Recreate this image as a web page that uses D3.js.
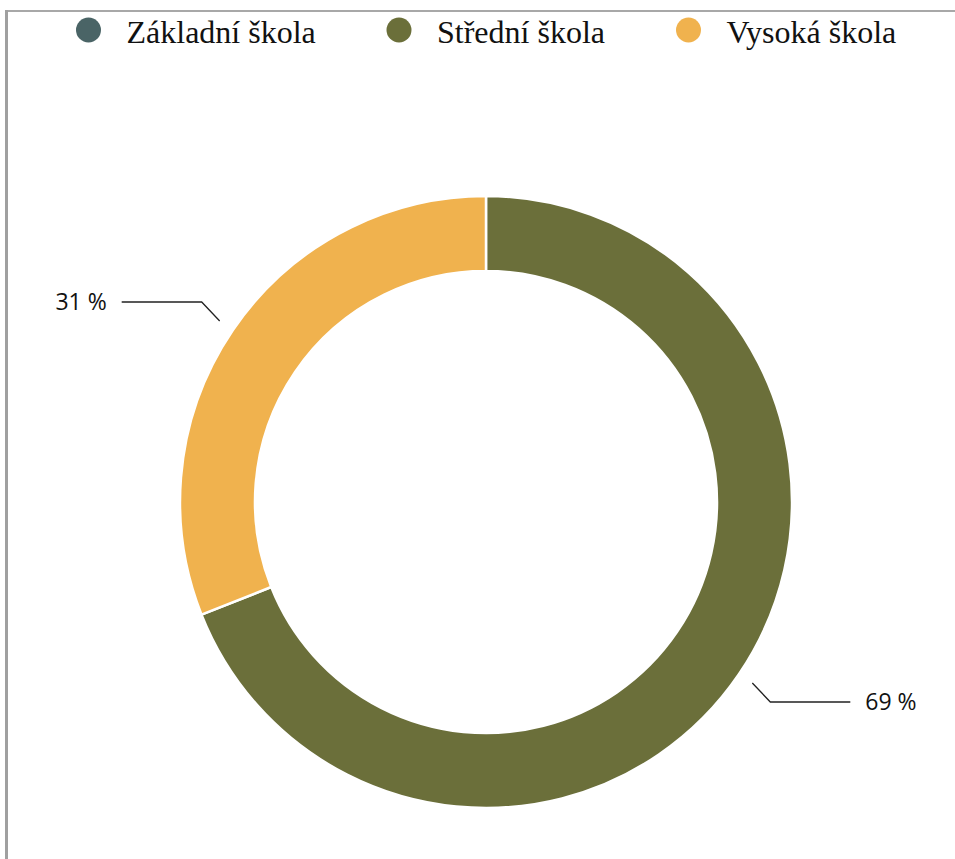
<!DOCTYPE html>
<html>
<head>
<meta charset="utf-8">
<script src="https://cdn.jsdelivr.net/npm/d3@7"></script>
<style>
  html, body { margin: 0; padding: 0; background: #fff; }
  svg { display: block; }
</style>
</head>
<body>
<svg id="chart" width="955" height="859"></svg>
<script>
const categories = ["Základní škola", "Střední škola", "Vysoká škola"];
const values = [0, 69, 31];
const colors = ["#4a6466", "#6b6f3a", "#f0b24e"];
const labelTexts = ["0 %", "69 %", "31 %"];

const svg = d3.select("#chart");
const W = 955, H = 859;

// frame
svg.append("line").attr("x1", 6.5).attr("x2", W).attr("y1", 11).attr("y2", 11)
  .attr("stroke", "#a8a8a8").attr("stroke-width", 2);
svg.append("line").attr("x1", 6.5).attr("x2", 6.5).attr("y1", 10).attr("y2", H)
  .attr("stroke", "#a0a0a0").attr("stroke-width", 3);

// legend
const legendX = [88.5, 399, 688.5];
const legend = svg.append("g");
categories.forEach((c, i) => {
  legend.append("circle").attr("cx", legendX[i]).attr("cy", 30).attr("r", 12.5).attr("fill", colors[i]);
  legend.append("text").attr("x", legendX[i] + 38).attr("y", 43)
    .attr("font-family", "Liberation Serif, Times New Roman, serif")
    .attr("font-size", 32).attr("fill", "#111").text(c);
});

// donut
const cx = 486, cy = 502, rOuter = 306, rInner = 231;
const pie = d3.pie().sort(null).value(d => d);
const arcs = pie(values);
const arc = d3.arc().innerRadius(rInner).outerRadius(rOuter);
const g = svg.append("g").attr("transform", `translate(${cx},${cy})`);
g.selectAll("path").data(arcs).join("path")
  .attr("d", arc).attr("fill", (d, i) => colors[i])
  .attr("stroke", "#fff").attr("stroke-width", 2.5);

// labels with leader lines
const arcStart = d3.arc().innerRadius(322).outerRadius(322);
arcs.forEach((d, i) => {
  if (d.value <= 0) return;
  const p0 = arcStart.centroid(d);
  const mid = (d.startAngle + d.endAngle) / 2;
  const side = mid < Math.PI ? 1 : -1;
  const p1 = [p0[0] + side * 18, p0[1] + side * 19];
  const p2 = [p1[0] + side * 80, p1[1]];
  g.append("polyline").attr("points", [p0, p1, p2].map(p => p.join(",")).join(" "))
    .attr("fill", "none").attr("stroke", "#222").attr("stroke-width", 1.3);
  g.append("text").attr("x", p2[0] + side * 15).attr("y", p2[1] + 8)
    .attr("text-anchor", side > 0 ? "start" : "end")
    .attr("font-family", "Open Sans, Liberation Sans, sans-serif")
    .attr("font-size", 23).attr("fill", "#111").text(labelTexts[i]);
});
</script>
</body>
</html>
